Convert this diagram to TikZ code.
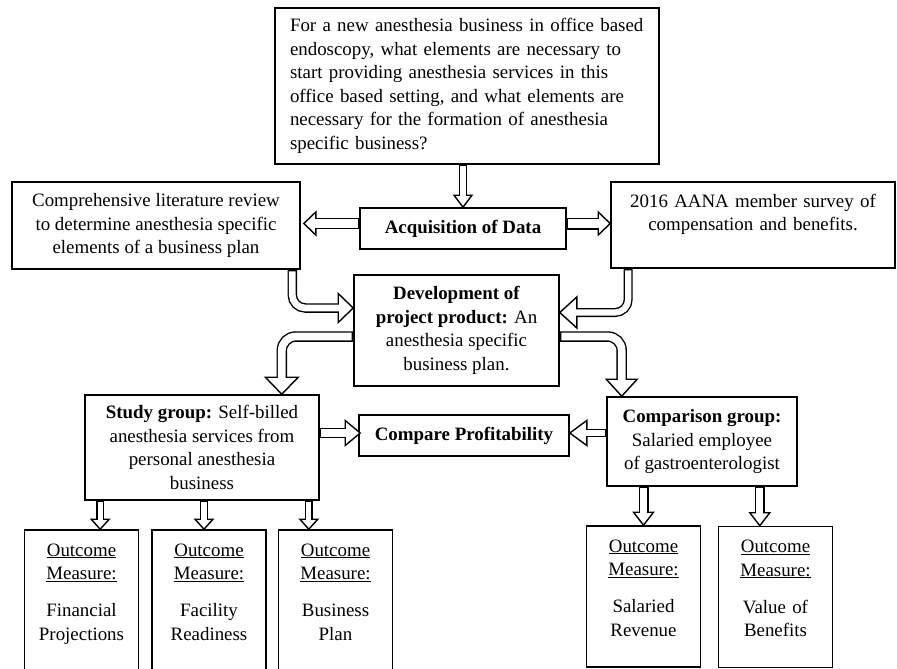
\documentclass[tikz,border=0pt]{standalone}
\usepackage{fontspec}
\setmainfont{Liberation Serif}
\usetikzlibrary{calc}
\tikzset{
  box/.style={draw=black, line width=1.6pt, align=center, inner sep=0pt,
    font=\fontsize{18.9}{23.5}\selectfont},
  obox/.style={box, text width=114pt, text height=26pt, text depth=115pt},
  shaftout/.style={draw=black, line cap=butt},
  shaftin/.style={draw=white, line cap=butt, shorten <=1.6pt, shorten >=-2.2pt},
  headout/.style={draw=black, fill=white, line width=1.4pt, line join=miter},
}
% hollow block arrow: path to head base, base, tip, shaft width, head half width
\newcommand{\hollowarrow}[5]{%
  \draw[shaftout, line width=#4] #1;
  \draw[headout] (#3) -- ($(#2)!#5!90:(#3)$) -- ($(#2)!#5!-90:(#3)$) -- cycle;
  \draw[shaftin, line width=#4-2.8pt] #1;
}
\begin{document}
\begin{tikzpicture}[x=1pt, y=-1pt]
\useasboundingbox (0,0) rectangle (897,669);

% boxes
\node[box, text width=354pt, align=left, minimum width=384pt, minimum height=156pt] (quest) at (467,86)
  {For a new anesthesia business in office based\\
   endoscopy, what elements are necessary to\\
   start providing anesthesia services in this\\
   office based setting, and what elements are\\
   necessary for the formation of anesthesia\\
   specific business?};
\node[box, minimum width=288pt, minimum height=87pt] (lit) at (156,225.5)
  {Comprehensive literature review\\to determine anesthesia specific\\elements of a business plan};
\node[box, minimum width=206pt, minimum height=41pt] (acq) at (463,228.5)
  {\textbf{Acquisition of Data}};
\node[box, text width=284pt, text height=25pt, text depth=61pt] (aana) at (753,225)
  {2016 AANA member survey of\\compensation and benefits.};
\node[box, minimum width=205pt, minimum height=111pt] (dev) at (456.5,330.5)
  {\textbf{Development of}\\\textbf{project product:} An\\anesthesia specific\\business plan.};
\node[box, minimum width=234pt, minimum height=105pt] (study) at (202,447.5)
  {\textbf{Study group:} Self-billed\\anesthesia services from\\personal anesthesia\\business};
\node[box, minimum width=210pt, minimum height=41pt] (cmp) at (464,435.5)
  {\textbf{Compare Profitability}};
\node[box, minimum width=190pt, minimum height=89pt] (compg) at (702,441.5)
  {\textbf{Comparison group:}\\Salaried employee\\of gastroenterologist};

% outcome measures
\node[obox] (o1) at (81.5,600.5) {\underline{Outcome}\\\underline{Measure:}\\[13.5pt]Financial\\Projections};
\node[obox] (o2) at (209,600.5) {\underline{Outcome}\\\underline{Measure:}\\[13.5pt]Facility\\Readiness};
\node[obox] (o3) at (335.5,600.5) {\underline{Outcome}\\\underline{Measure:}\\[13.5pt]Business\\Plan};
\node[obox] (o4) at (643.5,596.5) {\underline{Outcome}\\\underline{Measure:}\\[13.5pt]Salaried\\Revenue};
\node[obox] (o5) at (775.5,597) {\underline{Outcome}\\\underline{Measure:}\\[13.5pt]Value of\\Benefits};

% question to data
\coordinate (a1s) at (quest.south -| acq.north);
\coordinate (a1b) at ($(acq.north)+(0,-12)$);
\hollowarrow{(a1s) -- (a1b)}{a1b}{acq.north}{8pt}{9pt}

% data to sources
\coordinate (a2s) at ($(acq.west)+(0,-5)$);
\coordinate (a2t) at ($(a2s -| lit.east)+(3,0)$);
\coordinate (a2b) at ($(a2t)+(12,0)$);
\hollowarrow{(a2s) -- (a2b)}{a2b}{a2t}{11pt}{11.5pt}
\coordinate (a3s) at ($(acq.east)+(0,-5)$);
\coordinate (a3t) at (a3s -| aana.west);
\coordinate (a3b) at ($(a3t)+(-12,0)$);
\hollowarrow{(a3s) -- (a3b)}{a3b}{a3t}{12pt}{11.5pt}

% sources to product
\coordinate (a4s) at ($(lit.south east)+(-8.5,0)$);
\coordinate (a4t) at ($(dev.west)+(0,-22.5)$);
\coordinate (a4b) at ($(a4t)+(-15,0)$);
\hollowarrow{(a4s) [rounded corners=13pt] |- (a4b)}{a4b}{a4t}{9.5pt}{14.5pt}
\coordinate (a5s) at ($(aana.south west)+(18,0)$);
\coordinate (a5t) at ($(dev.east)+(0,-18)$);
\coordinate (a5b) at ($(a5t)+(17,0)$);
\hollowarrow{(a5s) [rounded corners=13pt] |- (a5b)}{a5b}{a5t}{9pt}{15.5pt}

% product to groups
\coordinate (a6s) at ($(dev.west)+(0,6)$);
\coordinate (a6t) at ($(study.north east)+(-38,0)$);
\coordinate (a6b) at ($(a6t)+(0,-17)$);
\hollowarrow{(a6s) [rounded corners=14pt] -| (a6b)}{a6b}{a6t}{10.5pt}{16.5pt}
\coordinate (a7s) at ($(dev.east)+(0,6)$);
\coordinate (a7t) at ($(compg.north west)+(15.5,0)$);
\coordinate (a7b) at ($(a7t)+(0,-17)$);
\hollowarrow{(a7s) [rounded corners=14pt] -| (a7b)}{a7b}{a7t}{10.5pt}{15.5pt}

% groups to comparison
\coordinate (a8s) at ($(study.east)+(0,-14.5)$);
\coordinate (a8t) at ($(a8s -| cmp.west)+(2,0)$);
\coordinate (a8b) at ($(a8t)+(-15,0)$);
\hollowarrow{(a8s) -- (a8b)}{a8b}{a8t}{10pt}{12.5pt}
\coordinate (a9s) at ($(compg.west)+(0,-8.5)$);
\coordinate (a9t) at (a9s -| cmp.east);
\coordinate (a9b) at ($(a9t)+(17,0)$);
\hollowarrow{(a9s) -- (a9b)}{a9b}{a9t}{8.5pt}{12.5pt}

% groups to outcome measures
\coordinate (a10s) at ($(study.south west)+(16,0)$);
\coordinate (a10t) at (a10s |- o1.north);
\coordinate (a10b) at ($(a10t)+(0,-10)$);
\hollowarrow{(a10s) -- (a10b)}{a10b}{a10t}{8pt}{9pt}
\coordinate (a11s) at ($(study.south)+(2,0)$);
\coordinate (a11t) at (a11s |- o2.north);
\coordinate (a11b) at ($(a11t)+(0,-10)$);
\hollowarrow{(a11s) -- (a11b)}{a11b}{a11t}{8pt}{9pt}
\coordinate (a12s) at ($(study.south east)+(-11,0)$);
\coordinate (a12t) at (a12s |- o3.north);
\coordinate (a12b) at ($(a12t)+(0,-10)$);
\hollowarrow{(a12s) -- (a12b)}{a12b}{a12t}{8pt}{9pt}
\coordinate (a13s) at (compg.south -| o4.north);
\coordinate (a13b) at ($(o4.north)+(0,-13)$);
\hollowarrow{(a13s) -- (a13b)}{a13b}{o4.north}{10pt}{10pt}
\coordinate (a14s) at ($(compg.south east)+(-38,0)$);
\coordinate (a14t) at (a14s |- o5.north);
\coordinate (a14b) at ($(a14t)+(0,-13)$);
\hollowarrow{(a14s) -- (a14b)}{a14b}{a14t}{10pt}{10pt}
\end{tikzpicture}
\end{document}
